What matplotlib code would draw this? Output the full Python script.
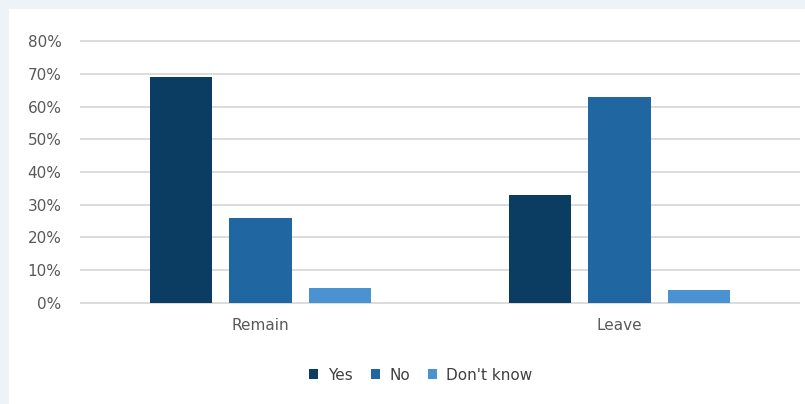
import matplotlib
matplotlib.use("Agg")
import matplotlib.pyplot as plt
import numpy as np
from matplotlib.patches import Rectangle
from matplotlib.ticker import PercentFormatter

categories = ["Remain", "Leave"]
answers = ["Yes", "No", "Don't know"]
yes_share = [0.69, 0.33]
no_share = [0.26, 0.63]
dont_know_share = [0.045, 0.04]
colors = ["#0b3d62", "#2066a0", "#4a92d0"]

plt.rcParams["font.family"] = ["DejaVu Sans"]

fig = plt.figure(figsize=(8.05, 4.04), dpi=100)
fig.patch.set_facecolor("#eef3f8")
# white card behind the chart
card = Rectangle((9 / 805, 0), 1, (404 - 9) / 404, transform=fig.transFigure,
                 facecolor="white", edgecolor="none", zorder=-1)
fig.add_artist(card)

ax = fig.add_axes([81 / 805, 1 - 302.7 / 404, 718 / 805, 261.4 / 404])
ax.set_zorder(1)
ax.set_facecolor("none")

x = np.arange(len(categories))
width = 0.175
step = 0.2215
series = [yes_share, no_share, dont_know_share]
for i, (vals, name) in enumerate(zip(series, answers)):
    ax.bar(x + (i - 1) * step, vals, width, color=colors[i], label=name, zorder=3)

ax.set_xlim(-0.5, 1.5)
ax.set_ylim(0, 0.8)
ax.set_yticks(np.arange(0, 0.81, 0.1))
ax.yaxis.set_major_formatter(PercentFormatter(1.0, decimals=0))
ax.set_xticks(x)
ax.set_xticklabels(categories)
ax.grid(axis="y", color="#d9d9d9", linewidth=1.3, zorder=0)
for line in ax.get_ygridlines():
    line.set_clip_on(False)
for s in ax.spines.values():
    s.set_visible(False)
ax.tick_params(axis="both", length=0, labelsize=11, labelcolor="#595959")
ax.tick_params(axis="y", pad=14)
ax.tick_params(axis="x", pad=11)

ax.legend(loc="center", bbox_to_anchor=(421 / 805, 1 - 375 / 404), bbox_transform=fig.transFigure,
          ncol=3, frameon=False, fontsize=11, labelcolor="#404040",
          handlelength=0.6, handleheight=0.6, handletextpad=0.6, columnspacing=1.2)

fig.savefig("out.png", dpi=100, facecolor=fig.get_facecolor())
